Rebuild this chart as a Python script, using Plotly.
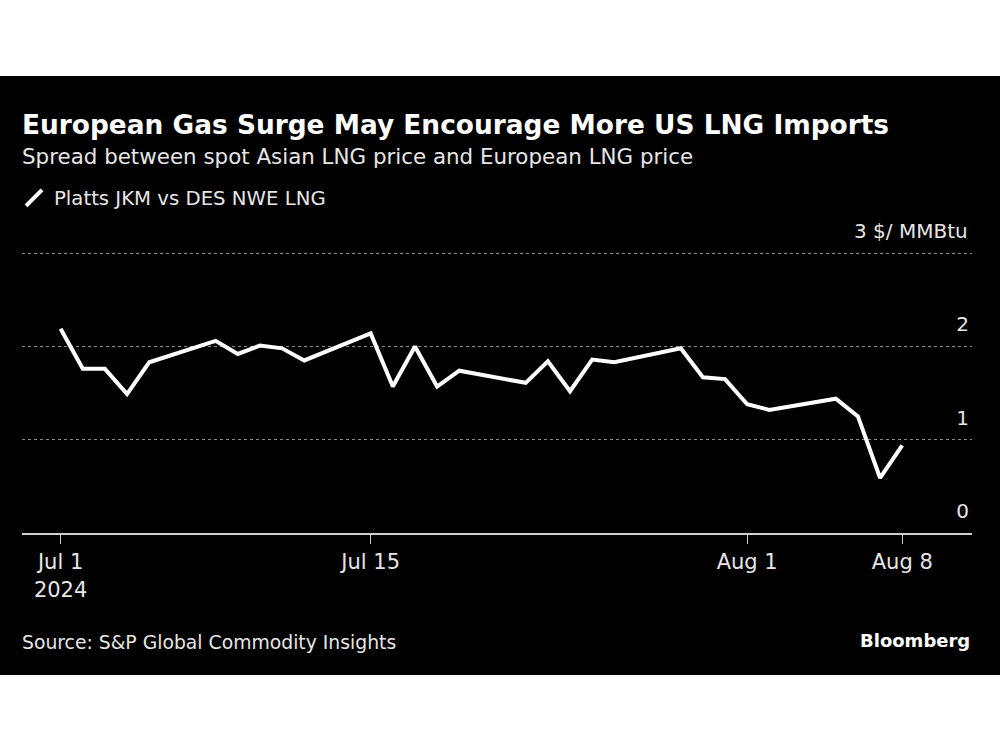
import plotly.graph_objects as go

# ---- data ----
dates = ["2024-07-01", "2024-07-02", "2024-07-03", "2024-07-04", "2024-07-05",
         "2024-07-08", "2024-07-09", "2024-07-10", "2024-07-11", "2024-07-12",
         "2024-07-15", "2024-07-16", "2024-07-17", "2024-07-18", "2024-07-19",
         "2024-07-22", "2024-07-23", "2024-07-24", "2024-07-25", "2024-07-26",
         "2024-07-29", "2024-07-30", "2024-07-31", "2024-08-01", "2024-08-02",
         "2024-08-05", "2024-08-06", "2024-08-07", "2024-08-08"]
spread = [2.19, 1.76, 1.76, 1.49, 1.83,
          2.06, 1.92, 2.01, 1.98, 1.85,
          2.14, 1.57, 2.00, 1.57, 1.74,
          1.61, 1.84, 1.52, 1.86, 1.83,
          1.98, 1.67, 1.65, 1.38, 1.32,
          1.44, 1.25, 0.59, 0.94]
series_name = "Platts JKM vs DES NWE LNG"
x_tick_vals = ["2024-07-01", "2024-07-15", "2024-08-01", "2024-08-08"]
x_tick_text = ["Jul 1<br>2024", "Jul 15", "Aug 1", "Aug 8"]
y_tick_vals = [0, 1, 2, 3]
y_tick_text = ["0", "1", "2", ""]
y_top_value = 3
y_top_label = "3 $/ MMBtu"

title = "European Gas Surge May Encourage More US LNG Imports"
subtitle = "Spread between spot Asian LNG price and European LNG price"
source = "Source: S&P Global Commodity Insights"
brand = "Bloomberg"

FONT = "DejaVu Sans"
W, H = 1000, 750
UNIT = 93.27                    # pixels per $/MMBtu
L, R, B = 22, 28, 217
T = 216
PH = H - T - B
PW = W - L - R
Y_TOP = PH / UNIT


def py(p):  # pixel y (from top) -> paper y
    return (H - B - p) / PH


def px(p):  # pixel x -> paper x
    return (p - L) / PW


fig = go.Figure()
fig.add_trace(go.Scatter(
    x=dates, y=spread, mode="lines", showlegend=False,
    line=dict(color="white", width=4), name=series_name,
))
fig.add_trace(go.Scatter(
    x=[None], y=[None], mode="markers", name=series_name, showlegend=True,
    marker=dict(symbol="line-ne", size=16, color="white",
                line=dict(color="white", width=4)),
))

fig.add_shape(type="rect", xref="paper", yref="paper", layer="below",
              x0=px(0), x1=px(W), y0=py(675), y1=py(76),
              fillcolor="black", line=dict(width=0))

tick_font = dict(size=20, color="#e6e6e6", family=FONT)

fig.update_layout(
    width=W, height=H,
    margin=dict(l=L, r=R, t=T, b=B, pad=0),
    paper_bgcolor="white", plot_bgcolor="black",
    font=dict(family=FONT, color="#e6e6e6"),
    hovermode=False,
    legend=dict(x=px(14), y=py(198), xanchor="left", yanchor="middle",
                font=dict(size=19.7, color="#e6e6e6", family=FONT),
                bgcolor="rgba(0,0,0,0)", itemsizing="trace"),
    xaxis=dict(
        type="date", range=["2024-06-29 06:10", "2024-08-11 03:36"],
        tickvals=x_tick_vals, ticktext=x_tick_text,
        showgrid=False, showline=True, linecolor="#cfcfcf", linewidth=2,
        ticks="outside", ticklen=9, tickwidth=1, tickcolor="#cfcfcf",
        tickfont=dict(size=21, color="#e6e6e6", family=FONT),
        ticklabeloverflow="allow",
        zeroline=False, fixedrange=True,
    ),
    yaxis=dict(
        range=[0, Y_TOP], side="right", tickvals=y_tick_vals, ticktext=y_tick_text,
        ticklabelposition="inside top", ticks="", ticklabelshift=-8,
        showgrid=True, gridcolor="#8a8a8a", griddash="dot", gridwidth=1,
        zeroline=False, showline=False, fixedrange=True,
        tickfont=tick_font,
    ),
    annotations=[
        dict(text="<b>" + title + "</b>", xref="paper", yref="paper",
             x=px(20), y=py(124), xanchor="left", yanchor="middle",
             showarrow=False, font=dict(size=26.4, color="white", family=FONT)),
        dict(text=subtitle, xref="paper", yref="paper",
             x=px(20), y=py(156), xanchor="left", yanchor="middle",
             showarrow=False, font=dict(size=21.4, color="#e6e6e6", family=FONT)),
        dict(text=y_top_label, xref="paper", yref="y",
             x=px(970), y=y_top_value, yshift=22, xanchor="right", yanchor="middle",
             showarrow=False, font=tick_font),
        dict(text=source, xref="paper", yref="paper",
             x=px(20), y=py(642), xanchor="left", yanchor="middle",
             showarrow=False, font=dict(size=18.8, color="#e6e6e6", family=FONT)),
        dict(text="<b>" + brand + "</b>", xref="paper", yref="paper",
             x=px(972), y=py(640), xanchor="right", yanchor="middle",
             showarrow=False, font=dict(size=18, color="white", family=FONT)),
    ],
)

fig.write_html("out.html", config={"displayModeBar": False},
               post_script="document.body.style.margin='0';")
